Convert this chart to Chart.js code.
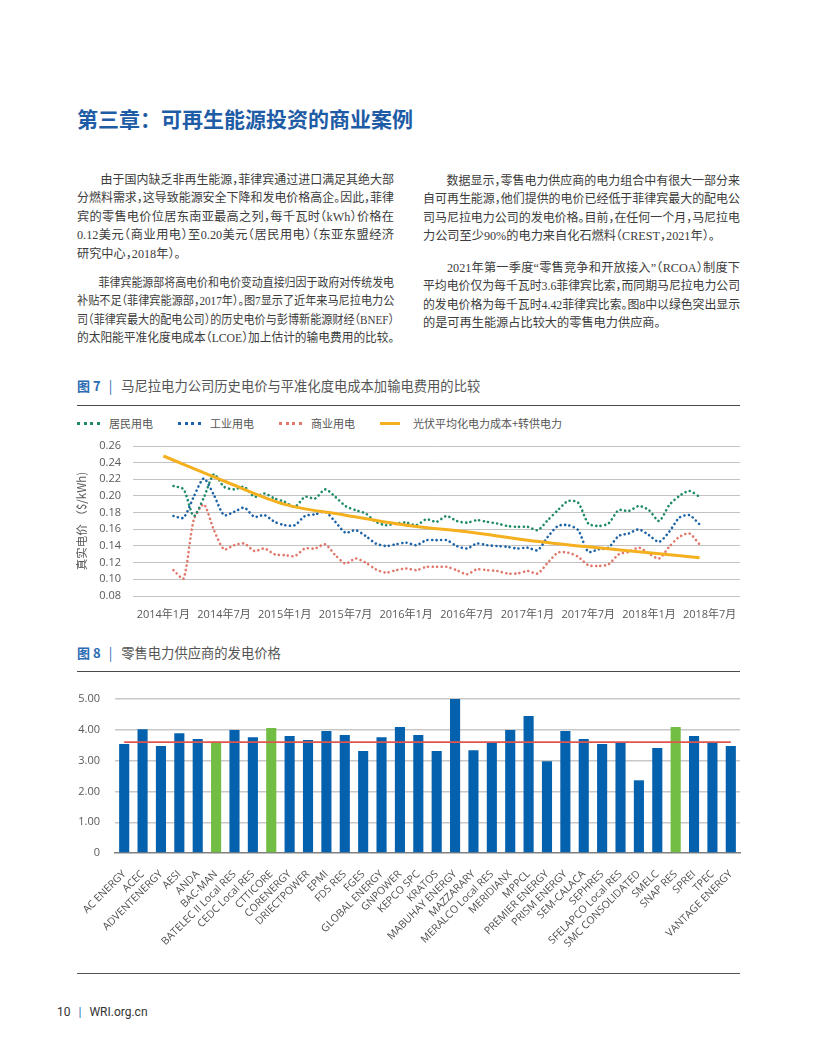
<!DOCTYPE html>
<html lang="zh-CN">
<head>
<meta charset="utf-8">
<title>第三章：可再生能源投资的商业案例</title>
<script src="https://cdn.jsdelivr.net/npm/chart.js@4.4.1/dist/chart.umd.min.js"></script>
<style>
  html, body { margin: 0; padding: 0; background: #fff; }
  body { width: 816px; height: 1056px; position: relative; overflow: hidden; font-family: 'Noto Sans CJK SC', sans-serif; }
  h1 { position: absolute; left: 77px; top: 103px; margin: 0; font-size: 21px; font-weight: 700; color: #1e5ca6; line-height: 30px; }
  .col { position: absolute; width: 317px; font-family: 'Liberation Serif', 'Noto Sans CJK SC', serif; font-size: 12.2px; line-height: 18.6px; color: #3c3c3c; font-feature-settings: "halt"; }
  .ln { white-space: nowrap; text-align: justify; text-align-last: justify; transform-origin: left center; box-sizing: border-box; width: 317px; }
  .ln.last { text-align-last: left; }
  .ln.ind { padding-left: 24px; }
  .fig { position: absolute; left: 77px; height: 18px; line-height: 18px; font-size: 13.3px; color: #555; white-space: nowrap; }
  .fig b { color: #2a6cb3; font-weight: 700; font-size: 13px; }
  .fig i { font-style: normal; color: #2a6cb3; margin: 0 9px 0 8px; }
  .rule { position: absolute; left: 77px; width: 663px; height: 1.5px; background: #4a4a4a; }
  #legend7 { position: absolute; left: 77px; top: 415px; height: 16px; display: flex; align-items: center; font-size: 11px; color: #555; }
  #legend7 .item { display: flex; align-items: center; margin-right: 25px; }
  #legend7 .sw { width: 23px; margin-right: 9px; }
  .box { position: absolute; }
  #footer { position: absolute; left: 57px; top: 1004px; font-family: 'Liberation Sans Narrow', 'Roboto', sans-serif; font-size: 12px; color: #333; line-height: 16px; }
  #footer i { font-style: normal; color: #2a6cb3; margin: 0 8px 0 8px; }
</style>
</head>
<body>

<h1>第三章：可再生能源投资的商业案例</h1>

<div class="col" style="left:77px; top:170.7px;">
  <div class="ln ind">由于国内缺乏非再生能源，菲律宾通过进口满足其绝大部</div>
  <div class="ln">分燃料需求，这导致能源安全下降和发电价格高企。因此，菲律</div>
  <div class="ln">宾的零售电价位居东南亚最高之列，每千瓦时（kWh）价格在</div>
  <div class="ln">0.12美元（商业用电）至0.20美元（居民用电）（东亚东盟经济</div>
  <div class="ln last">研究中心，2018年）。</div>
</div>
<div class="col" style="left:77px; top:273.7px;">
  <div class="ln ind">菲律宾能源部将高电价和电价变动直接归因于政府对传统发电</div>
  <div class="ln">补贴不足（菲律宾能源部，2017年）。图7显示了近年来马尼拉电力公</div>
  <div class="ln">司（菲律宾最大的配电公司）的历史电价与彭博新能源财经（BNEF）</div>
  <div class="ln last">的太阳能平准化度电成本（LCOE）加上估计的输电费用的比较。</div>
</div>
<div class="col" style="left:423px; top:171.7px;">
  <div class="ln ind">数据显示，零售电力供应商的电力组合中有很大一部分来</div>
  <div class="ln">自可再生能源，他们提供的电价已经低于菲律宾最大的配电公</div>
  <div class="ln">司马尼拉电力公司的发电价格。目前，在任何一个月，马尼拉电</div>
  <div class="ln last">力公司至少90%的电力来自化石燃料（CREST，2021年）。</div>
</div>
<div class="col" style="left:423px; top:258.7px;">
  <div class="ln ind">2021年第一季度“零售竞争和开放接入”（RCOA）制度下</div>
  <div class="ln">平均电价仅为每千瓦时3.6菲律宾比索，而同期马尼拉电力公司</div>
  <div class="ln">的发电价格为每千瓦时4.42菲律宾比索。图8中以绿色突出显示</div>
  <div class="ln last">的是可再生能源占比较大的零售电力供应商。</div>
</div>

<div class="fig" style="top:377px;"><b>图 7</b><i>|</i>马尼拉电力公司历史电价与平准化度电成本加输电费用的比较</div>
<div class="rule" style="top:404.5px;"></div>
<div id="legend7"></div>
<div class="box" style="left:60px; top:436px; width:690px; height:190px;"><canvas id="chart7"></canvas></div>

<div class="fig" style="top:644px;"><b>图 8</b><i>|</i>零售电力供应商的发电价格</div>
<div class="rule" style="top:670.5px;"></div>
<div class="box" style="left:60px; top:689px; width:690px; height:284px;"><canvas id="chart8"></canvas></div>

<div class="rule" style="top:972.5px; background:#555;"></div>
<div id="footer">10<i>|</i>WRI.org.cn</div>

<script>
// ---------- 图7 数据 ----------
const axisMonths = []
for (let y = 2013; y <= 2018; y++) {
  for (let m = 1; m <= 12; m++) {
    if ((y === 2013 && m < 10) || (y === 2018 && m > 10)) continue
    axisMonths.push(y + '年' + m + '月')
  }
}
const tickMonths = ['2014年1月', '2014年7月', '2015年1月', '2015年7月', '2016年1月',
  '2016年7月', '2017年1月', '2017年7月', '2018年1月', '2018年7月']

// 2014年2月 - 2018年6月，每月一个值
const seriesMonths = axisMonths.slice(axisMonths.indexOf('2014年2月'), axisMonths.indexOf('2018年6月') + 1)

const residential = [
  0.212, 0.208, 0.176, 0.198, 0.226, 0.211, 0.208, 0.211, 0.199, 0.203,
  0.197, 0.193, 0.187, 0.199, 0.197, 0.208, 0.199, 0.188, 0.183, 0.179,
  0.169, 0.165, 0.167, 0.168, 0.165, 0.172, 0.169, 0.176, 0.170, 0.168,
  0.171, 0.169, 0.167, 0.164, 0.163, 0.163, 0.159, 0.171, 0.183, 0.194,
  0.192, 0.167, 0.164, 0.167, 0.183, 0.182, 0.188, 0.183, 0.170, 0.189,
  0.200, 0.206, 0.199
]
const industrial = [
  0.176, 0.174, 0.199, 0.221, 0.201, 0.177, 0.181, 0.186, 0.175, 0.177,
  0.169, 0.165, 0.165, 0.176, 0.178, 0.181, 0.169, 0.156, 0.159, 0.152,
  0.143, 0.140, 0.142, 0.144, 0.141, 0.147, 0.147, 0.147, 0.140, 0.137,
  0.143, 0.141, 0.140, 0.139, 0.137, 0.138, 0.135, 0.151, 0.164, 0.165,
  0.159, 0.133, 0.136, 0.138, 0.152, 0.155, 0.160, 0.153, 0.145, 0.157,
  0.174, 0.177, 0.166
]
const commercial = [
  0.111, 0.101, 0.171, 0.190, 0.159, 0.136, 0.141, 0.143, 0.134, 0.137,
  0.130, 0.129, 0.128, 0.137, 0.137, 0.142, 0.129, 0.119, 0.125, 0.120,
  0.112, 0.108, 0.111, 0.113, 0.111, 0.115, 0.115, 0.115, 0.111, 0.106,
  0.112, 0.111, 0.110, 0.107, 0.107, 0.110, 0.107, 0.120, 0.132, 0.132,
  0.127, 0.117, 0.116, 0.118, 0.130, 0.133, 0.138, 0.131, 0.125, 0.139,
  0.151, 0.155, 0.142
]
// 光伏平均化电力成本+转供电力（平滑曲线，读取的节点）
const pvMonths = ['2014年1月', '2014年7月', '2015年1月', '2015年7月', '2016年1月',
  '2016年7月', '2017年1月', '2017年7月', '2018年1月', '2018年6月']
const pvValues = [0.248, 0.218, 0.190, 0.177, 0.165, 0.157, 0.147, 0.139, 0.132, 0.126]

const seriesNames = ['居民用电', '工业用电', '商业用电', '光伏平均化电力成本+转供电力']
const seriesColors = ['#1f8a6b', '#1d63a7', '#e0786c', '#f4b01f']
const priceAxisTicks = [0.08, 0.10, 0.12, 0.14, 0.16, 0.18, 0.20, 0.22, 0.24, 0.26]

// ---------- 图8 数据 ----------
const suppliers = ['AC ENERGY', 'ACEC', 'ADVENTENERGY', 'AESI', 'ANDA', 'BAC-MAN',
  'BATELEC II Local RES', 'CEDC Local RES', 'CTTICORE', 'CORENERGY', 'DRIECTPOWER',
  'EPMI', 'FDS RES', 'FGES', 'GLOBAL ENERGY', 'GNPOWER', 'KEPCO SPC', 'KRATOS',
  'MABUHAY ENERGY', 'MAZZARARY', 'MERALCO Local RES', 'MERIDIANX', 'MPPCL',
  'PREMIER ENERGY', 'PRISM ENERGY', 'SEM-CALACA', 'SEPHRES', 'SFELAPCO Local RES',
  'SMC CONSOLIDATED', 'SMELC', 'SNAP RES', 'SPREI', 'TPEC', 'VANTAGE ENERGY']
const generationPrice = [3.54, 4.02, 3.47, 3.89, 3.70, 3.61, 3.99, 3.76, 4.06, 3.80,
  3.67, 3.96, 3.83, 3.31, 3.76, 4.09, 3.83, 3.31, 5.00, 3.34,
  3.60, 3.99, 4.45, 2.98, 3.96, 3.70, 3.54, 3.60, 2.36, 3.41,
  4.09, 3.80, 3.60, 3.47]
const renewableSuppliers = ['BAC-MAN', 'CTTICORE', 'SNAP RES']
const rcoaAverage = 3.6
const generationTicks = [0, 1, 2, 3, 4, 5]

// ---------- 正文行宽调整 ----------
document.querySelectorAll('.ln').forEach(el => {
  const w = el.clientWidth
  const s = el.scrollWidth
  if (s > w + 0.5) {
    el.style.width = s + 'px'
    el.style.transform = 'scaleX(' + (w / s) + ')'
  }
})

// ---------- 图例 ----------
const legend = document.getElementById('legend7')
seriesNames.forEach((name, i) => {
  const item = document.createElement('div')
  item.className = 'item'
  const sw = document.createElement('span')
  sw.className = 'sw'
  if (i < 3) {
    sw.style.borderTop = '3px dotted ' + seriesColors[i]
    sw.style.width = '23px'
  } else {
    sw.style.borderTop = '3.5px solid ' + seriesColors[i]
    sw.style.width = '20px'
    sw.style.marginRight = '13px'
  }
  item.appendChild(sw)
  item.appendChild(document.createTextNode(name))
  legend.appendChild(item)
})

const tickFont = { family: "'Open Sans', 'Noto Sans CJK SC', sans-serif", size: 11 }
const tickColor = '#595959'

// ---------- 图7 ----------
const dotted = (values, i) => ({
  label: seriesNames[i],
  data: seriesMonths.map((m, k) => ({ x: m, y: values[k] })),
  borderColor: seriesColors[i],
  borderWidth: 2.6,
  borderDash: [0.1, 4.4],
  borderCapStyle: 'round',
  pointRadius: 0,
  tension: 0.25,
  fill: false
})

new Chart(document.getElementById('chart7'), {
  type: 'line',
  data: {
    labels: axisMonths,
    datasets: [
      {
        label: seriesNames[3],
        data: pvMonths.map((m, k) => ({ x: m, y: pvValues[k] })),
        borderColor: seriesColors[3],
        borderWidth: 3,
        pointRadius: 0,
        cubicInterpolationMode: 'monotone',
        fill: false
      },
      dotted(residential, 0),
      dotted(industrial, 1),
      dotted(commercial, 2)
    ]
  },
  options: {
    responsive: true,
    maintainAspectRatio: false,
    animation: false,
    layout: { autoPadding: false, padding: { top: 10, right: 10, left: 0, bottom: 0 } },
    plugins: { legend: { display: false }, tooltip: { enabled: false } },
    scales: {
      x: {
        type: 'category',
        offset: false,
        grid: { display: false },
        border: { display: false },
        ticks: {
          autoSkip: false,
          maxRotation: 0,
          minRotation: 0,
          padding: 4,
          font: tickFont,
          color: tickColor,
          callback: function (v) {
            const lab = this.getLabelForValue(v)
            return tickMonths.includes(lab) ? lab : ''
          }
        },
        afterFit: s => { s.height = 30 }
      },
      y: {
        min: 0.08,
        max: 0.26,
        afterBuildTicks: s => { s.ticks = priceAxisTicks.map(v => ({ value: v })) },
        grid: { color: '#c3c3c3', lineWidth: 1, drawTicks: true, tickLength: 12, tickColor: 'rgba(0,0,0,0)' },
        border: { display: false },
        ticks: { autoSkip: false, padding: 0, font: tickFont, color: tickColor, callback: v => v.toFixed(2) },
        title: {
          display: true,
          text: '真实电价 （$/kWh)',
          color: tickColor,
          font: { family: "'Noto Sans CJK SC', sans-serif", size: 11.5 },
          padding: { top: 15, bottom: 0 }
        },
        afterFit: s => { s.width = 73 }
      }
    }
  }
})

// ---------- 图8 ----------
new Chart(document.getElementById('chart8'), {
  type: 'bar',
  data: {
    labels: suppliers,
    datasets: [
      {
        type: 'line',
        label: 'RCOA平均电价',
        data: suppliers.map(() => rcoaAverage),
        borderColor: '#e0564e',
        borderWidth: 1.6,
        pointRadius: 0,
        order: 0
      },
      {
        label: '发电价格',
        data: generationPrice,
        backgroundColor: suppliers.map(s => renewableSuppliers.includes(s) ? '#72bd43' : '#0361ad'),
        categoryPercentage: 1,
        barPercentage: 0.55,
        order: 1
      }
    ]
  },
  options: {
    responsive: true,
    maintainAspectRatio: false,
    animation: false,
    layout: { autoPadding: false, padding: { top: 10, right: 10, left: 0, bottom: 0 } },
    plugins: { legend: { display: false }, tooltip: { enabled: false } },
    scales: {
      x: {
        grid: { display: false },
        border: { display: true, color: '#808080', width: 1.6 },
        ticks: {
          autoSkip: false,
          maxRotation: 45,
          minRotation: 45,
          padding: 7,
          font: { family: "'Open Sans', sans-serif", size: 10.5 },
          color: '#505050'
        },
        afterFit: s => { s.height = 120 }
      },
      y: {
        min: 0,
        max: 5,
        afterBuildTicks: s => { s.ticks = generationTicks.map(v => ({ value: v })) },
        grid: {
          color: c => c.tick && c.tick.value === 0 ? 'rgba(0,0,0,0)' : '#c8c8c8',
          lineWidth: 1.4,
          drawTicks: true,
          tickLength: 15,
          tickColor: 'rgba(0,0,0,0)'
        },
        border: { display: false },
        ticks: { autoSkip: false, padding: 0, font: tickFont, color: tickColor, callback: v => v === 0 ? '0' : v.toFixed(2) },
        afterFit: s => { s.width = 55 }
      }
    }
  }
})
</script>
</body>
</html>
